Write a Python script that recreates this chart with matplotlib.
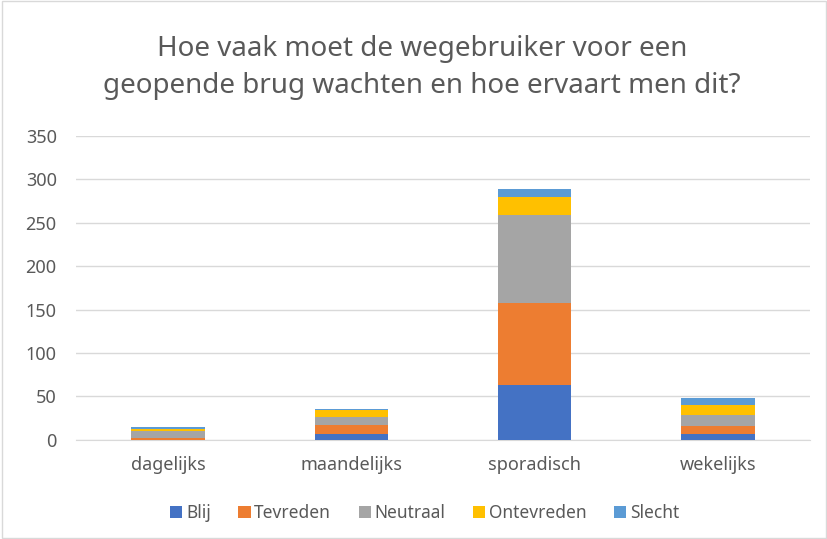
import matplotlib.pyplot as plt
import numpy as np

categories = ["dagelijks", "maandelijks", "sporadisch", "wekelijks"]
series_names = ["Blij", "Tevreden", "Neutraal", "Ontevreden", "Slecht"]
blij = [0, 7, 63, 7]
tevreden = [2, 10, 94, 9]
neutraal = [8, 9, 102, 13]
ontevreden = [3, 8, 20, 11]
slecht = [2, 1, 10, 8]
colors = ["#4472C4", "#ED7D31", "#A5A5A5", "#FFC000", "#5B9BD5"]

plt.rcParams['font.family'] = ['Noto Sans', 'DejaVu Sans']

fig = plt.figure(figsize=(8.28, 5.39), dpi=100)
ax = fig.add_axes([0.092, 0.184, 0.886, 0.564])

x = np.arange(len(categories))
bottom = np.zeros(len(categories))
for name, vals, c in zip(series_names, [blij, tevreden, neutraal, ontevreden, slecht], colors):
    ax.bar(x, vals, 0.4, bottom=bottom, color=c, label=name, zorder=3)
    bottom += np.array(vals)

ax.set_xlim(-0.5, 3.5)
ax.set_ylim(0, 350)
ax.set_yticks(range(0, 351, 50))
ax.set_xticks(x)
ax.set_xticklabels(categories)
ax.grid(axis='y', color='#d9d9d9', linewidth=1, zorder=0)
for s in ['top', 'right', 'left']:
    ax.spines[s].set_visible(False)
ax.spines['bottom'].set_color('#d9d9d9')
ax.tick_params(axis='both', length=0, colors='#595959', labelsize=13)
ax.tick_params(axis='x', pad=12)
ax.tick_params(axis='y', pad=14)

fig.text(0.51, 0.875, "Hoe vaak moet de wegebruiker voor een\ngeopende brug wachten en hoe ervaart men dit?",
         ha='center', va='center', fontsize=20, color='#595959', linespacing=1.4)

ax.legend(loc='center', bbox_to_anchor=(0.475, -0.24), ncol=5, frameon=False,
          fontsize=12.5, labelcolor='#595959', handlelength=0.7, handleheight=0.7,
          handletextpad=0.2, columnspacing=1.6)

fig.patches.append(plt.Rectangle((0.002, 0.002), 0.996, 0.996, transform=fig.transFigure,
                                 fill=False, edgecolor='#d9d9d9', linewidth=1))

fig.savefig("out.png", dpi=100)
